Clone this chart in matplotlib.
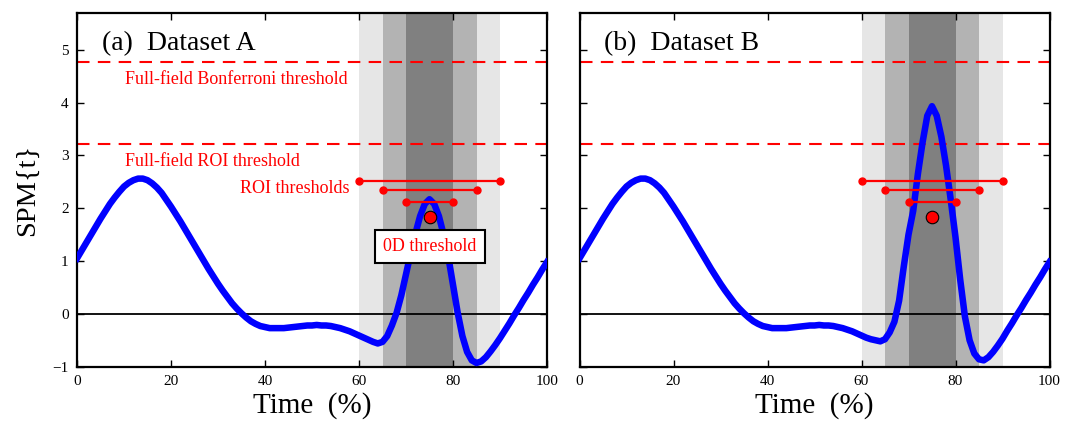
import numpy as np
import matplotlib
matplotlib.use("Agg")
import matplotlib.pyplot as plt

plt.rcParams['font.family'] = ['Liberation Serif', 'DejaVu Serif']
plt.rcParams['axes.unicode_minus'] = True

# ---- data ----
time = np.arange(0, 101)  # Time (%)

spm_a = [
    1.05, 1.20, 1.35, 1.50, 1.65, 1.80, 1.94, 2.08, 2.20, 2.31,
    2.41, 2.48, 2.53, 2.56, 2.56, 2.53, 2.47, 2.39, 2.29, 2.16,
    2.03, 1.89, 1.75, 1.60, 1.45, 1.30, 1.15, 1.00, 0.85, 0.71,
    0.57, 0.44, 0.32, 0.20, 0.10, 0.01, -0.07, -0.14, -0.19, -0.23,
    -0.25, -0.27, -0.27, -0.27, -0.27, -0.26, -0.25, -0.24, -0.23, -0.22,
    -0.22, -0.21, -0.22, -0.22, -0.23, -0.25, -0.27, -0.30, -0.33, -0.37,
    -0.41, -0.45, -0.49, -0.53, -0.56, -0.53, -0.42, -0.22, 0.02, 0.35,
    0.75, 1.15, 1.52, 1.85, 2.08, 2.17, 2.08, 1.85, 1.50, 1.08,
    0.55, 0.02, -0.42, -0.72, -0.88, -0.93, -0.90, -0.82, -0.71, -0.59,
    -0.46, -0.32, -0.18, -0.03, 0.11, 0.26, 0.40, 0.55, 0.69, 0.84,
    0.98,
]

spm_b = [
    1.05, 1.20, 1.35, 1.50, 1.65, 1.80, 1.94, 2.08, 2.20, 2.31,
    2.41, 2.48, 2.53, 2.56, 2.56, 2.53, 2.47, 2.39, 2.29, 2.16,
    2.03, 1.89, 1.75, 1.60, 1.45, 1.30, 1.15, 1.00, 0.85, 0.71,
    0.57, 0.44, 0.32, 0.20, 0.10, 0.01, -0.07, -0.14, -0.19, -0.23,
    -0.25, -0.27, -0.27, -0.27, -0.27, -0.26, -0.25, -0.24, -0.23, -0.22,
    -0.22, -0.21, -0.22, -0.22, -0.23, -0.25, -0.27, -0.30, -0.33, -0.37,
    -0.41, -0.45, -0.48, -0.50, -0.52, -0.48, -0.35, -0.15, 0.25, 0.90,
    1.50, 1.95, 2.65, 3.25, 3.75, 3.93, 3.75, 3.35, 2.80, 2.15,
    1.45, 0.65, -0.05, -0.50, -0.75, -0.86, -0.88, -0.82, -0.72, -0.60,
    -0.47, -0.32, -0.18, -0.03, 0.11, 0.26, 0.40, 0.55, 0.69, 0.84,
    0.98,
]

bonferroni_threshold = 4.77
roi_fullfield_threshold = 3.22
roi_windows = [(60, 90), (65, 85), (70, 80)]
roi_thresholds = [2.52, 2.35, 2.12]
roi_shades = ['0.9', '0.7', '0.5']
zero_d_time = 75
zero_d_threshold = 1.84

panel_titles = ['(a)  Dataset A', '(b)  Dataset B']
xticks = [0, 20, 40, 60, 80, 100]
yticks = [-1, 0, 1, 2, 3, 4, 5]

# ---- figure ----
fig = plt.figure(figsize=(10.76, 4.26), dpi=100)
ax_w = 470 / 1076
ax_h = 354 / 426
ax_b = 59.3 / 426
axA = fig.add_axes([77 / 1076, ax_b, ax_w, ax_h])
axB = fig.add_axes([579.5 / 1076, ax_b, ax_w, ax_h])

red = '#ff0000'

for i, (ax, spm) in enumerate(zip([axA, axB], [spm_a, spm_b])):
    for (x0, x1), shade in zip(roi_windows, roi_shades):
        ax.axvspan(x0, x1, color=shade, lw=0, zorder=0)
    ax.axhline(0, color='k', lw=1.3, zorder=1)
    ax.axhline(bonferroni_threshold, color=red, lw=1.5, dashes=(6, 4), zorder=2)
    ax.axhline(roi_fullfield_threshold, color=red, lw=1.5, dashes=(6, 4), zorder=2)
    ax.plot(time, spm, color='#0000ff', lw=4.7, zorder=3, solid_joinstyle='round')
    for (x0, x1), h in zip(roi_windows, roi_thresholds):
        ax.plot([x0, x1], [h, h], color=red, lw=1.6, marker='o', ms=5,
                mec=red, zorder=4)
    ax.plot([zero_d_time], [zero_d_threshold], 'o', color=red, ms=9,
            mec='k', mew=0.8, zorder=5)

    ax.set_xlim(0, 100)
    ax.set_ylim(-1, 5.7)
    ax.set_xticks(xticks)
    ax.set_yticks(yticks)
    ax.tick_params(direction='in', top=True, right=True, length=5, width=1,
                   labelsize=11, pad=6)
    for sp in ax.spines.values():
        sp.set_linewidth(1.6)
    ax.text(5.3, 5.0, panel_titles[i], fontsize=20, va='baseline', ha='left',
            zorder=6)
    ax.set_xlabel('Time  (%)', fontsize=21, labelpad=3)

axB.set_yticklabels([])
axA.set_ylabel('SPM{t}', fontsize=20.5, labelpad=9)

axA.text(10.3, 4.43, 'Full-field Bonferroni threshold', color=red,
         fontsize=13, va='center', ha='left', zorder=6)
axA.text(10.3, 2.89, 'Full-field ROI threshold', color=red,
         fontsize=13, va='center', ha='left', zorder=6)
axA.text(58.0, 2.38, 'ROI thresholds', color=red,
         fontsize=13, va='center', ha='right', zorder=6)
axA.text(75.1, 1.28, '0D threshold', color=red, fontsize=13,
         va='center', ha='center', zorder=6,
         bbox=dict(boxstyle='square,pad=0.45', fc='white', ec='k', lw=1.5))

fig.savefig('out.png', dpi=100)
